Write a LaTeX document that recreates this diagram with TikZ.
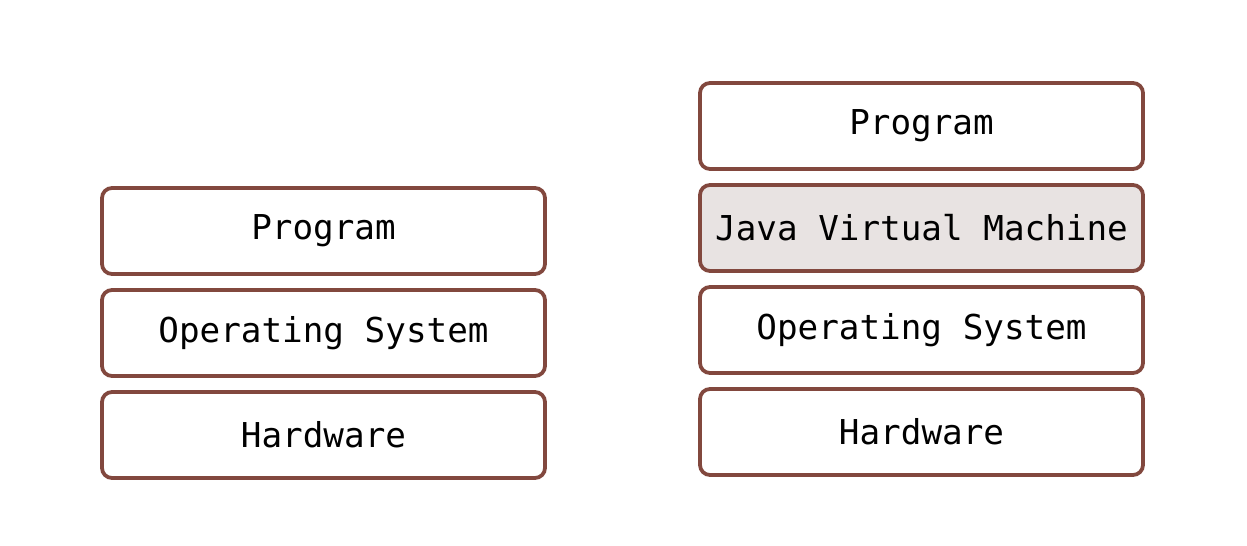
\documentclass[tikz,border=0pt]{standalone}
\usepackage{fontspec}
\setmonofont{DejaVu Sans Mono}
\usetikzlibrary{positioning}
\definecolor{boxline}{RGB}{130,72,62}
\definecolor{jvmfill}{RGB}{232,227,226}
\tikzset{layer/.style={draw=boxline,line width=0.075cm,rounded corners=0.2cm,
  minimum width=8.86cm,minimum height=1.72cm,outer sep=0pt,
  font=\ttfamily\fontsize{19.5}{22}\selectfont}}
\begin{document}
\begin{tikzpicture}[node distance=0.32cm]
  \useasboundingbox (0,0) rectangle (24.94,-10.92);
  % without JVM
  \node[layer] (hwl) at (6.47,-8.70) {Hardware};
  \node[layer,above=of hwl] (osl) {Operating System};
  \node[layer,above=of osl] (progl) {Program};
  % with JVM
  \node[layer] (hwr) at (18.43,-8.64) {Hardware};
  \node[layer,above=of hwr] (osr) {Operating System};
  \node[layer,fill=jvmfill,above=of osr] (jvm) {Java Virtual Machine};
  \node[layer,above=of jvm] (progr) {Program};
\end{tikzpicture}
\end{document}
